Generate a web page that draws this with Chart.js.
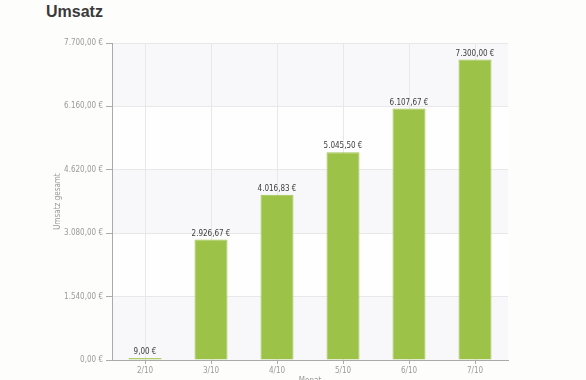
<!DOCTYPE html>
<html>
<head>
<meta charset="utf-8">
<script src="https://cdn.jsdelivr.net/npm/chart.js@4"></script>
<style>
  html, body { margin: 0; padding: 0; background: #fdfdfb; }
  #wrap { position: relative; width: 586px; height: 380px; overflow: hidden; }
  #title {
    position: absolute; left: 46px; top: 3px;
    font: bold 16px "Liberation Sans", Arial, sans-serif; color: #3a3a3a;
  }
  canvas { position: absolute; left: 0; top: 0; }
</style>
</head>
<body>
<div id="wrap">
  <div id="title">Umsatz</div>
  <canvas id="umsatzChart" width="586" height="380"></canvas>
</div>
<script>
const months = ["2/10", "3/10", "4/10", "5/10", "6/10", "7/10"];
const umsatz = [9.0, 2926.67, 4016.83, 5045.5, 6107.67, 7300.0];
const yTicks = [0, 1540, 3080, 4620, 6160, 7700];

const smallFont = { family: "'DejaVu Sans Condensed', 'DejaVu Sans', sans-serif", size: 8 };

// 1234.5 -> "1.234,50 €"
function euro(v) {
  let parts = v.toFixed(2).split(".");
  let whole = parts[0].replace(/\B(?=(\d{3})+(?!\d))/g, ".");
  return whole + "," + parts[1] + " €";
}

// alternating background bands in the plot area
const bands = {
  id: "bands",
  beforeDraw(chart) {
    let ctx = chart.ctx;
    let area = chart.chartArea;
    let y = chart.scales.y;
    ctx.save();
    ctx.fillStyle = "#fefefe";
    ctx.fillRect(area.left, area.top, area.right - area.left, area.bottom - area.top);
    ctx.fillStyle = "#f8f8fa";
    for (let i = 0; i < yTicks.length - 1; i += 2) {
      let top = y.getPixelForValue(yTicks[i + 1]);
      let bottom = y.getPixelForValue(yTicks[i]);
      ctx.fillRect(area.left, top, area.right - area.left, bottom - top);
    }
    ctx.restore();
  },
};

// value labels above bars
const valueLabels = {
  id: "valueLabels",
  afterDatasetsDraw(chart) {
    let ctx = chart.ctx;
    let meta = chart.getDatasetMeta(0);
    ctx.save();
    ctx.font = "8px " + smallFont.family;
    ctx.fillStyle = "#3c3c3c";
    ctx.textAlign = "center";
    ctx.textBaseline = "bottom";
    meta.data.forEach((bar, i) => {
      ctx.fillText(euro(umsatz[i]), bar.x, bar.y - 2);
    });
    ctx.restore();
  },
};

new Chart(document.getElementById("umsatzChart").getContext("2d"), {
  type: "bar",
  data: {
    labels: months,
    datasets: [
      {
        label: "Umsatz",
        data: umsatz,
        backgroundColor: "#9cc247",
        borderColor: "#a2c652",
        borderWidth: 1,
        barPercentage: 0.5,
        categoryPercentage: 1,
        minBarLength: 2,
      },
    ],
  },
  options: {
    responsive: false,
    animation: false,
    layout: { padding: { left: 53, right: 78, top: 43, bottom: 0 } },
    scales: {
      x: {
        offset: true,
        afterFit(scale) { scale.height = 20; },
        grid: { offset: false, color: "#e8e8e8", tickColor: "#aaaaaa", tickLength: 4 },
        border: { color: "#aaaaaa" },
        ticks: { color: "#9a9a9a", font: smallFont, padding: 2 },
        title: {
          display: true, text: "Monat", color: "#9a9a9a", font: smallFont,
          padding: { top: 0, bottom: -6 },
        },
      },
      y: {
        min: 0,
        max: 7700,
        afterFit(scale) { scale.width = 59; },
        afterBuildTicks(scale) { scale.ticks = yTicks.map((v) => ({ value: v })); },
        grid: { color: "#e8e8e8", tickColor: "#aaaaaa", tickLength: 6 },
        border: { color: "#aaaaaa" },
        ticks: { color: "#9a9a9a", font: smallFont, padding: 3, callback: (v) => euro(v) },
        title: {
          display: true, text: "Umsatz gesamt", color: "#9a9a9a", font: smallFont,
          padding: 0,
        },
      },
    },
    plugins: {
      legend: { display: false },
      tooltip: { enabled: false },
    },
  },
  plugins: [bands, valueLabels],
});
</script>
</body>
</html>
